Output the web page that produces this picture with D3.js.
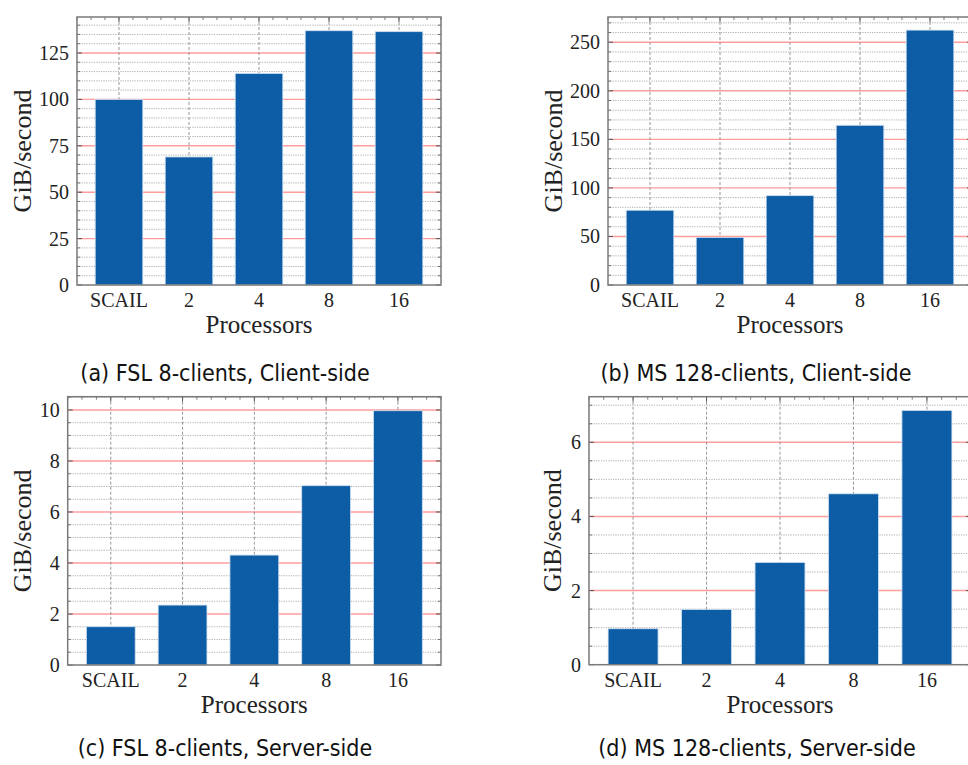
<!DOCTYPE html>
<html>
<head>
<meta charset="utf-8">
<script src="https://cdn.jsdelivr.net/npm/d3@7"></script>
<style>
  body { margin: 0; background: white; }
  svg { display: block; }
</style>
</head>
<body>
<script>
// data
const processors = ["SCAIL", "2", "4", "8", "16"];
const fslClient = [100, 69, 114, 137, 136.5];
const msClient = [77, 49, 92, 164.5, 262.5];
const fslServer = [1.5, 2.35, 4.31, 7.03, 9.97];
const msServer = [0.97, 1.49, 2.76, 4.61, 6.86];

const ticksFslClient = [0, 25, 50, 75, 100, 125];
const ticksMsClient = [0, 50, 100, 150, 200, 250];
const ticksFslServer = [0, 2, 4, 6, 8, 10];
const ticksMsServer = [0, 2, 4, 6];

const captions = [
  "(a) FSL 8-clients, Client-side",
  "(b) MS 128-clients, Client-side",
  "(c) FSL 8-clients, Server-side",
  "(d) MS 128-clients, Server-side"
];

const W = 968, H = 765;
const svg = d3.create("svg").attr("width", W).attr("height", H);

const serif = "'Liberation Serif', 'DejaVu Serif', serif";
const sans = "'Liberation Sans Narrow', 'DejaVu Sans Condensed', 'DejaVu Sans', sans-serif";

function drawPanel(p) {
  const g = svg.append("g").attr("transform", `translate(${p.left},${p.top})`);
  const w = p.width, h = p.height;

  const x = d3.scaleLinear().domain([-0.6, 4.6]).range([0, w]);
  const y = d3.scaleLinear().domain([0, p.yMax]).range([h, 0]);
  const minors = d3.range(0, p.yMax, p.minor).filter(v => !p.ticks.some(t => Math.abs(t - v) < 1e-9));
  const xMinors = d3.range(-0.6, 4.61, 0.2).filter(v => Math.abs(v - Math.round(v)) > 1e-6);

  // minor horizontal dotted grid
  g.append("g").selectAll("line").data(minors).join("line")
    .attr("x1", 0).attr("x2", w)
    .attr("y1", d => y(d)).attr("y2", d => y(d))
    .attr("stroke", "#9a9a9a").attr("stroke-width", 0.8)
    .attr("stroke-dasharray", "1.2,1.2");

  // major horizontal red grid
  g.append("g").selectAll("line").data(p.ticks.filter(t => t > 0)).join("line")
    .attr("x1", 0).attr("x2", w)
    .attr("y1", d => y(d)).attr("y2", d => y(d))
    .attr("stroke", "#ff9c9c").attr("stroke-width", 1.4);

  // vertical dashed grid at categories
  g.append("g").selectAll("line").data(processors).join("line")
    .attr("x1", (d, i) => x(i)).attr("x2", (d, i) => x(i))
    .attr("y1", 0).attr("y2", h)
    .attr("stroke", "#8a8a8a").attr("stroke-width", 0.9)
    .attr("stroke-dasharray", "3,2");

  // bars
  const bw = x(0.68) - x(0);
  g.append("g").selectAll("rect").data(p.values).join("rect")
    .attr("x", (d, i) => x(i) - bw / 2)
    .attr("width", bw)
    .attr("y", d => y(d))
    .attr("height", d => h - y(d))
    .attr("fill", "#0C5DA5")
    .attr("stroke", "#cfe0f0").attr("stroke-width", 0.8);

  // ticks (inward, all sides)
  const tk = g.append("g").attr("stroke", "#555");
  tk.selectAll(".ml").data(p.ticks).join("line")
    .attr("x1", 0).attr("x2", 5).attr("y1", d => y(d)).attr("y2", d => y(d)).attr("stroke-width", 1);
  tk.selectAll(".mr").data(p.ticks).join("line")
    .attr("x1", w - 5).attr("x2", w).attr("y1", d => y(d)).attr("y2", d => y(d)).attr("stroke-width", 1);
  tk.selectAll(".nl").data(minors).join("line")
    .attr("x1", 0).attr("x2", 3).attr("y1", d => y(d)).attr("y2", d => y(d)).attr("stroke-width", 0.8);
  tk.selectAll(".nr").data(minors).join("line")
    .attr("x1", w - 3).attr("x2", w).attr("y1", d => y(d)).attr("y2", d => y(d)).attr("stroke-width", 0.8);
  tk.selectAll(".xt").data(processors).join("line")
    .attr("x1", (d, i) => x(i)).attr("x2", (d, i) => x(i)).attr("y1", 0).attr("y2", 5).attr("stroke-width", 1);
  tk.selectAll(".xn").data(xMinors).join("line")
    .attr("x1", d => x(d)).attr("x2", d => x(d)).attr("y1", 0).attr("y2", 3).attr("stroke-width", 0.8);

  // frame
  g.append("rect").attr("x", 0).attr("y", 0).attr("width", w).attr("height", h)
    .attr("fill", "none").attr("stroke", "#7a7a7a").attr("stroke-width", 1.5);

  // y tick labels
  g.append("g").selectAll("text").data(p.ticks).join("text")
    .attr("x", -8).attr("y", d => y(d)).attr("dy", "0.35em")
    .attr("text-anchor", "end")
    .style("font", `20px ${serif}`).attr("fill", "#222")
    .text(d => d);

  // x tick labels
  g.append("g").selectAll("text").data(processors).join("text")
    .attr("x", (d, i) => x(i)).attr("y", h + 22)
    .attr("text-anchor", "middle")
    .style("font", `20px ${serif}`).attr("fill", "#222")
    .text(d => d);

  // axis titles
  g.append("text")
    .attr("x", w / 2).attr("y", h + 48)
    .attr("text-anchor", "middle")
    .style("font", `25px ${serif}`).attr("fill", "#222")
    .text("Processors");
  g.append("text")
    .attr("transform", `translate(${p.ylabX - p.left},${h / 2}) rotate(-90)`)
    .attr("dy", "0.35em")
    .attr("text-anchor", "middle")
    .style("font", `26px ${serif}`).attr("fill", "#222")
    .text("GiB/second");

  // caption
  svg.append("text")
    .attr("x", p.capX).attr("y", p.capY).attr("dy", "0.35em")
    .attr("text-anchor", "middle")
    .style("font", `23px ${sans}`).attr("fill", "#111")
    .text(p.caption);
}

drawPanel({ left: 77, top: 17, width: 364, height: 268, yMax: 144.4, minor: 5,
  values: fslClient, ticks: ticksFslClient, ylabX: 22, capX: 225, capY: 373, caption: captions[0] });
drawPanel({ left: 608, top: 17, width: 364, height: 268, yMax: 276, minor: 10,
  values: msClient, ticks: ticksMsClient, ylabX: 553, capX: 756, capY: 373, caption: captions[1] });
drawPanel({ left: 67.7, top: 396.7, width: 373.3, height: 268.3, yMax: 10.52, minor: 0.5,
  values: fslServer, ticks: ticksFslServer, ylabX: 22, capX: 225, capY: 748, caption: captions[2] });
drawPanel({ left: 589, top: 396.7, width: 382, height: 268, yMax: 7.23, minor: 0.5,
  values: msServer, ticks: ticksMsServer, ylabX: 552, capX: 757, capY: 748, caption: captions[3] });

document.body.appendChild(svg.node());
</script>
</body>
</html>
